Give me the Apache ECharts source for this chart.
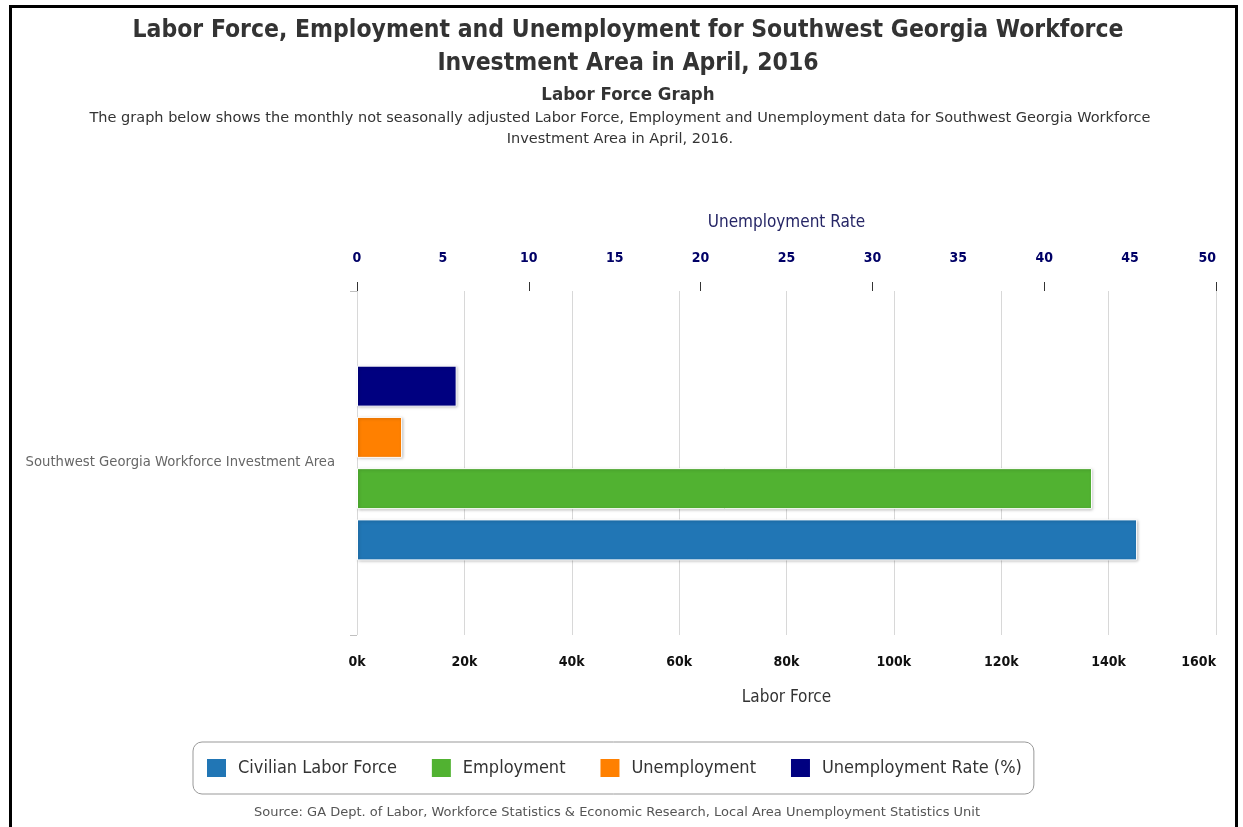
<!DOCTYPE html>
<html>
<head>
<meta charset="utf-8">
<script src="https://cdn.jsdelivr.net/npm/echarts@6/dist/echarts.min.js"></script>
<style>
html,body{margin:0;padding:0;background:#fff;}
#frame{position:absolute;left:9px;top:5px;width:1229px;height:900px;border:3px solid #000;box-sizing:border-box;}
#chart{position:absolute;left:0;top:0;width:1243px;height:827px;}
</style>
</head>
<body>
<div id="frame"></div>
<div id="chart"></div>
<script>
const categories = ['Southwest Georgia Workforce Investment Area'];
const civilianLaborForce = [145300];
const employment = [136900];
const unemployment = [8400];
const unemploymentRate = [5.8];
const seriesNames = ['Civilian Labor Force', 'Employment', 'Unemployment', 'Unemployment Rate (%)'];
const seriesColors = ['#2176b5', '#51b231', '#ff8000', '#000080'];

const FONT_C = '"DejaVu Sans Condensed", "DejaVu Sans", sans-serif';
const FONT = '"DejaVu Sans", sans-serif';
const chart = echarts.init(document.getElementById('chart'), null, {renderer: 'canvas'});

const barStyle = (c) => ({
  color: c, borderColor: '#ffffff', borderWidth: 1,
  shadowBlur: 3, shadowOffsetX: 1, shadowOffsetY: 1, shadowColor: 'rgba(0,0,0,0.25)'
});

// series listed top-to-bottom as drawn (ECharts stacks the first series at the top of the band)
const seriesDefs = [
  {name: seriesNames[3], data: unemploymentRate, axis: 1, color: seriesColors[3]},
  {name: seriesNames[2], data: unemployment, axis: 0, color: seriesColors[2]},
  {name: seriesNames[1], data: employment, axis: 0, color: seriesColors[1]},
  {name: seriesNames[0], data: civilianLaborForce, axis: 0, color: seriesColors[0]}
];

const option = {
  backgroundColor: 'transparent',
  animation: false,
  textStyle: {fontFamily: FONT_C},
  graphic: [
    {type: 'text', x: 628, y: 31, style: {text: 'Labor Force, Employment and Unemployment for Southwest Georgia Workforce', font: 'bold 24.5px ' + FONT_C, fill: '#333', textAlign: 'center', textVerticalAlign: 'middle'}},
    {type: 'text', x: 628, y: 64, style: {text: 'Investment Area in April, 2016', font: 'bold 24.5px ' + FONT_C, fill: '#333', textAlign: 'center', textVerticalAlign: 'middle'}},
    {type: 'text', x: 628, y: 95, style: {text: 'Labor Force Graph', font: 'bold 18.5px ' + FONT_C, fill: '#333', textAlign: 'center', textVerticalAlign: 'middle'}},
    {type: 'text', x: 620, y: 118, style: {text: 'The graph below shows the monthly not seasonally adjusted Labor Force, Employment and Unemployment data for Southwest Georgia Workforce', font: '14.5px ' + FONT, fill: '#333', textAlign: 'center', textVerticalAlign: 'middle'}},
    {type: 'text', x: 620, y: 139, style: {text: 'Investment Area in April, 2016.', font: '14.5px ' + FONT, fill: '#333', textAlign: 'center', textVerticalAlign: 'middle'}},
    {type: 'text', x: 617, y: 813, style: {text: 'Source: GA Dept. of Labor, Workforce Statistics & Economic Research, Local Area Unemployment Statistics Unit', font: '13px ' + FONT, fill: '#555', textAlign: 'center', textVerticalAlign: 'middle'}}
  ],
  legend: {
    data: seriesNames,
    left: 193, top: 742,
    padding: [15, 12, 15, 12],
    borderColor: '#999', borderWidth: 1, borderRadius: 9,
    icon: 'rect', itemWidth: 21, itemHeight: 20, itemGap: 33,
    textStyle: {fontSize: 18, color: '#333', fontFamily: FONT_C, padding: [0, 0, 0, 6]}
  },
  grid: {left: 357, right: 27, top: 291, bottom: 192, containLabel: false},
  xAxis: [
    {
      type: 'value', position: 'bottom', min: 0, max: 160000, interval: 20000,
      name: 'Labor Force', nameLocation: 'middle', nameGap: 54,
      nameTextStyle: {fontSize: 17, color: '#333'},
      axisLine: {show: false}, axisTick: {show: false},
      axisLabel: {margin: 20, fontSize: 14, fontWeight: 'bold', color: '#111', alignMaxLabel: 'right',
        formatter: v => (v / 1000) + 'k'},
      splitLine: {show: true, lineStyle: {color: '#d8d8d8', width: 1}}
    },
    {
      type: 'value', position: 'top', min: 0, max: 50, interval: 5,
      name: 'Unemployment Rate', nameLocation: 'middle', nameGap: 60,
      nameTextStyle: {fontSize: 17, color: '#262666'},
      axisLine: {show: false}, axisTick: {show: false},
      axisLabel: {margin: 26, fontSize: 14, fontWeight: 'bold', color: '#000066', alignMaxLabel: 'right'},
      splitLine: {show: false}
    },
    {
      type: 'value', position: 'top', min: 0, max: 50, interval: 10,
      axisLine: {show: false},
      axisTick: {show: true, length: 9, lineStyle: {color: '#333', width: 1}},
      axisLabel: {show: false}, splitLine: {show: false}
    }
  ],
  yAxis: {
    type: 'category', data: categories,
    axisLine: {show: false},
    axisTick: {show: true, length: 7, lineStyle: {color: '#c0c0c0'}},
    axisLabel: {margin: 22, fontSize: 13.2, color: '#666', fontFamily: FONT}
  },
  series: seriesDefs.map(s => ({
    name: s.name, type: 'bar', xAxisIndex: s.axis, data: s.data,
    barWidth: 41, barGap: '25%', itemStyle: barStyle(s.color)
  }))
};
chart.setOption(option);
</script>
</body>
</html>
